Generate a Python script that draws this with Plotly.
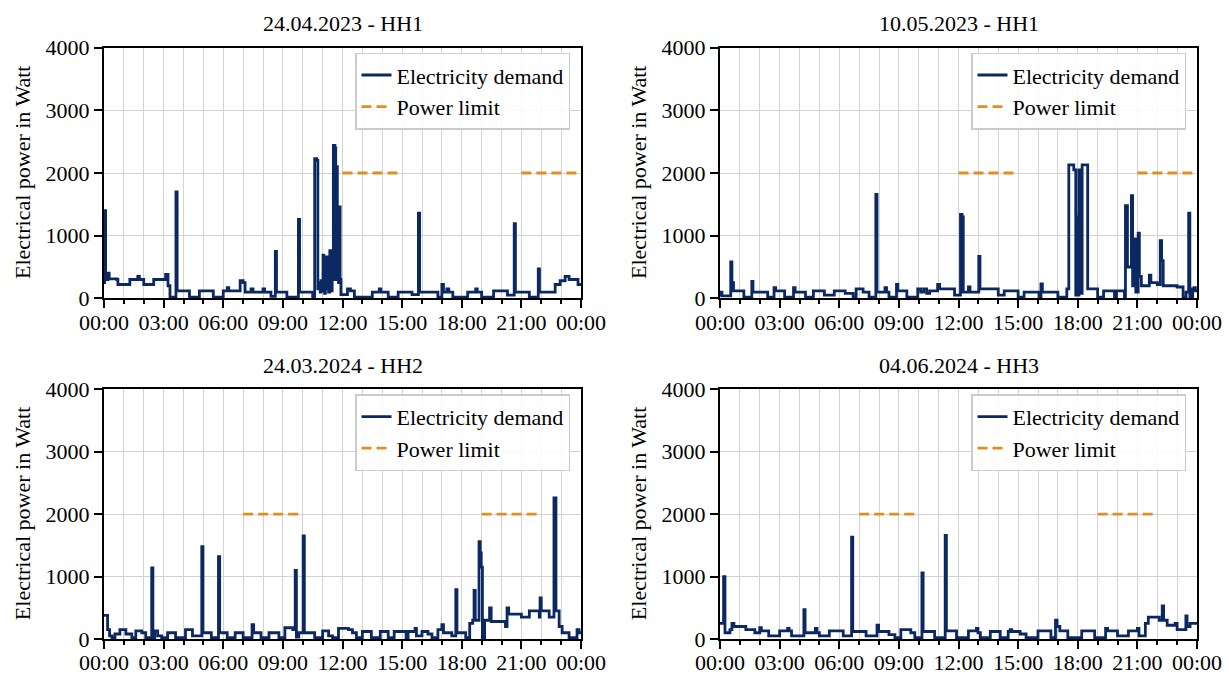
import plotly.graph_objects as go

# ---------------- data (hour of day, watt) ----------------
titles = ["24.04.2023 - HH1", "10.05.2023 - HH1", "24.03.2024 - HH2", "04.06.2024 - HH3"]

demand_a = [(0.00, 250), (0.03, 1400), (0.08, 300), (0.20, 400), (0.26, 310), (0.65, 300), (0.70, 220),
            (1.30, 300), (1.70, 350), (1.78, 300), (2.00, 220), (2.50, 300), (3.10, 380), (3.22, 200),
            (3.32, 20), (3.62, 1700), (3.68, 120), (4.30, 20), (4.80, 120), (5.50, 20), (6.00, 120),
            (6.20, 170), (6.28, 120), (6.85, 280), (7.00, 250), (7.10, 100), (7.40, 150), (7.50, 100),
            (8.00, 150), (8.08, 100), (8.40, 30), (8.62, 750), (8.68, 100), (9.20, 20), (9.78, 1260),
            (9.84, 100), (10.50, 20), (10.60, 2230), (10.70, 2200), (10.76, 150), (10.82, 250),
            (10.88, 100), (10.92, 280), (10.98, 120), (11.02, 690), (11.06, 200), (11.10, 80),
            (11.14, 250), (11.18, 660), (11.22, 150), (11.26, 280), (11.30, 100), (11.36, 760),
            (11.40, 300), (11.44, 120), (11.48, 300), (11.54, 2440), (11.62, 2400), (11.66, 300),
            (11.70, 2100), (11.74, 350), (11.80, 250), (11.84, 1460), (11.88, 300), (11.92, 60),
            (12.25, 150), (12.40, 120), (12.60, 20),
            (13.50, 100), (13.85, 150), (13.93, 100), (14.30, 20), (14.80, 100), (15.50, 60),
            (15.82, 1360), (15.88, 100), (16.80, 20), (17.00, 220), (17.08, 100), (17.25, 150),
            (17.35, 100), (17.55, 20), (18.30, 100), (18.70, 150), (18.78, 100), (19.00, 20),
            (19.60, 120), (20.30, 50), (20.64, 1190), (20.70, 100), (21.40, 20), (21.85, 470),
            (21.91, 100), (22.70, 220), (22.95, 280), (23.20, 350), (23.40, 300), (23.85, 220),
            (24.00, 220)]

demand_b = [(0.00, 50), (0.05, 100), (0.10, 40), (0.54, 580), (0.60, 250), (0.68, 120), (1.20, 20),
            (1.60, 270), (1.66, 100), (2.40, 20), (2.72, 170), (2.80, 120), (3.25, 20), (3.70, 170),
            (3.78, 100), (4.30, 20), (4.70, 120), (5.25, 50), (5.75, 120), (6.30, 80), (6.70, 20),
            (6.85, 150), (7.20, 100), (7.50, 20), (7.84, 1660), (7.90, 100), (8.30, 170), (8.38, 100),
            (8.50, 20), (8.88, 220), (8.95, 120), (9.40, 20), (9.95, 150), (10.10, 100), (10.25, 150),
            (10.40, 80), (10.55, 120), (10.95, 220), (11.05, 150), (11.80, 50), (12.10, 1340),
            (12.18, 1300), (12.24, 100), (12.50, 180), (12.58, 100), (13.02, 670), (13.08, 150),
            (14.00, 50), (14.30, 120), (15.00, 20), (15.30, 100), (16.05, 20), (16.15, 230),
            (16.22, 100), (17.00, 20), (17.45, 150), (17.55, 2130), (17.80, 2050), (17.90, 50),
            (17.96, 1300), (18.02, 50), (18.06, 2050), (18.14, 80), (18.22, 2130), (18.50, 150),
            (19.00, 20), (19.30, 120), (19.85, 20), (19.95, 120), (20.35, 20), (20.40, 1480),
            (20.50, 500), (20.70, 1640), (20.76, 200), (20.86, 950), (20.92, 100), (21.04, 1040),
            (21.10, 350), (21.20, 200), (21.60, 370), (21.68, 250), (22.00, 220), (22.15, 920),
            (22.22, 600), (22.30, 200), (23.00, 180), (23.30, 20), (23.45, 100), (23.58, 1360),
            (23.64, 20), (23.78, 150), (23.85, 170), (23.92, 120), (24.00, 120)]

demand_c = [(0.00, 380), (0.18, 150), (0.28, 50), (0.40, 20), (0.55, 80), (0.80, 150), (1.10, 80),
            (1.40, 20), (1.60, 130), (1.90, 100), (2.10, 20), (2.40, 1140), (2.46, 20), (2.55, 130),
            (2.70, 50), (2.90, 20), (3.20, 100), (3.60, 20), (4.10, 150), (4.45, 50), (4.92, 1480),
            (4.98, 100), (5.40, 20), (5.76, 1320), (5.82, 100), (6.20, 20), (6.60, 100), (7.00, 20),
            (7.45, 230), (7.53, 100), (7.90, 20), (8.30, 100), (8.80, 20), (9.10, 180), (9.50, 150),
            (9.62, 1100), (9.68, 30), (9.80, 100), (10.02, 1650), (10.08, 100), (10.60, 20),
            (11.00, 130), (11.30, 50), (11.50, 20), (11.80, 170), (12.30, 150), (12.50, 100),
            (12.70, 20), (13.00, 120), (13.45, 20), (13.90, 120), (14.30, 20), (14.60, 120),
            (15.20, 20), (15.30, 120), (15.65, 170), (15.72, 50), (16.00, 120), (16.30, 80),
            (16.50, 20), (16.80, 150), (17.00, 230), (17.08, 100), (17.50, 50), (17.70, 790),
            (17.76, 100), (18.20, 20), (18.40, 250), (18.55, 300), (18.62, 780), (18.68, 300),
            (18.87, 1560), (18.93, 1380), (18.98, 1150), (19.04, 0), (19.15, 300), (19.40, 500),
            (19.48, 280), (20.20, 200), (20.28, 500), (20.36, 400), (21.00, 350), (21.40, 450),
            (21.90, 350), (21.94, 660), (22.00, 450), (22.40, 350), (22.64, 2260), (22.74, 450),
            (22.90, 200), (23.05, 100), (23.40, 20), (23.80, 150), (23.90, 100), (24.00, 100)]

demand_d = [(0.00, 250), (0.18, 1000), (0.25, 100), (0.50, 150), (0.60, 250), (0.70, 200), (1.30, 150),
            (1.75, 100), (2.00, 180), (2.08, 130), (2.45, 50), (3.00, 130), (3.40, 170), (3.48, 130),
            (3.60, 50), (4.22, 470), (4.28, 100), (4.80, 170), (4.88, 100), (5.00, 50), (5.50, 130),
            (6.20, 50), (6.62, 1630), (6.68, 120), (7.35, 50), (7.90, 220), (7.98, 120), (8.50, 70),
            (8.80, 20), (9.10, 150), (9.60, 100), (9.80, 20), (10.16, 1060), (10.22, 120),
            (10.80, 20), (11.33, 1660), (11.39, 130), (11.90, 20), (12.50, 130), (12.90, 170),
            (12.98, 100), (13.10, 20), (13.60, 120), (14.10, 20), (14.50, 120), (14.60, 150),
            (14.68, 120), (15.10, 80), (15.40, 20), (16.00, 130), (16.65, 20), (16.88, 300),
            (16.96, 200), (17.10, 130), (17.50, 20), (18.20, 130), (18.85, 20), (19.40, 170),
            (19.50, 130), (20.00, 50), (20.55, 130), (21.00, 170), (21.08, 50), (21.40, 250),
            (21.55, 350), (22.10, 300), (22.25, 530), (22.32, 300), (22.50, 220), (22.90, 250),
            (23.00, 150), (23.44, 370), (23.50, 200), (23.65, 250), (24.00, 250)]

limit_windows_a = [(12, 15), (21, 24)]
limit_windows_b = [(12, 15), (21, 24)]
limit_windows_c = [(7, 10), (19, 22)]
limit_windows_d = [(7, 10), (19, 22)]
power_limit = 2000

tick_hours = [0, 3, 6, 9, 12, 15, 18, 21, 24]
tick_labels = ["00:00", "03:00", "06:00", "09:00", "12:00", "15:00", "18:00", "21:00", "00:00"]
y_ticks = [0, 1000, 2000, 3000, 4000]

# ---------------- styling ----------------
W, H = 1229, 674
FONT = "Liberation Serif"
FS = 22
NAVY = "#0B2862"
ORANGE = "#E08E22"
GRID = "#d3d3d3"

# pixel boxes of plot areas: (left, right, top, bottom)
boxes = [(104, 581, 47.7, 298.3), (720, 1197, 47.7, 298.3),
         (104, 581, 389.3, 639), (720, 1197, 389.3, 639)]

demands = [demand_a, demand_b, demand_c, demand_d]
windows = [limit_windows_a, limit_windows_b, limit_windows_c, limit_windows_d]

fig = go.Figure()
annotations = []
layout = {}

for i in range(4):
    n = "" if i == 0 else str(i + 1)
    xa, ya = "x" + n, "y" + n
    leg = "legend" + n
    l, r, t, b = boxes[i]
    xdom = [l / W, r / W]
    ydom = [1 - b / H, 1 - t / H]

    fig.add_trace(go.Scatter(
        x=[p[0] for p in demands[i]], y=[p[1] for p in demands[i]],
        mode="lines", line=dict(color=NAVY, width=2.8, shape="hv"),
        name="Electricity demand", xaxis=xa, yaxis=ya, legend=leg))
    lx, ly = [], []
    for (s, e) in windows[i]:
        lx += [s, e, None]
        ly += [power_limit, power_limit, None]
    fig.add_trace(go.Scatter(
        x=lx, y=ly, mode="lines", line=dict(color=ORANGE, width=2.8, dash="10px,5px"),
        name="Power limit", xaxis=xa, yaxis=ya, legend=leg))

    layout["xaxis" + n] = dict(
        domain=xdom, anchor=ya, range=[0, 24], tickvals=tick_hours, ticktext=tick_labels,
        ticks="outside", ticklen=8, tickwidth=2, tickcolor="black", automargin=False,
        ticklabelstandoff=-5,
        showline=True, linecolor="black", linewidth=2, mirror=True,
        showgrid=True, gridcolor=GRID, gridwidth=1, zeroline=False,
        minor=dict(dtick=1, tick0=0, ticks="outside", ticklen=4, tickwidth=1.5,
                   tickcolor="black", showgrid=True, gridcolor=GRID, gridwidth=1),
        tickfont=dict(family=FONT, size=FS, color="black"), fixedrange=True)
    layout["yaxis" + n] = dict(
        domain=ydom, anchor=xa, range=[0, 4000], tickvals=y_ticks,
        ticks="outside", ticklen=8, tickwidth=2, tickcolor="black", automargin=False,
        showline=True, linecolor="black", linewidth=2, mirror=True,
        showgrid=True, gridcolor=GRID, gridwidth=1, zeroline=False,
        tickfont=dict(family=FONT, size=FS, color="black"), fixedrange=True)
    layout[leg] = dict(
        x=(r - 11) / W, y=1 - (t + 5) / H, xanchor="right", yanchor="top",
        bgcolor="rgba(255,255,255,0.85)", bordercolor="#cccccc", borderwidth=1.5,
        font=dict(family=FONT, size=FS, color="black"), itemwidth=30, tracegroupgap=0)

    annotations.append(dict(
        text=titles[i], x=(l + r) / 2 / W, y=1 - (t - 24) / H, xref="paper", yref="paper",
        xanchor="center", yanchor="middle", showarrow=False,
        font=dict(family=FONT, size=FS, color="black")))
    annotations.append(dict(
        text="Electrical power in Watt", x=(l - 82) / W, y=1 - (t + b) / 2 / H,
        xref="paper", yref="paper", xanchor="center", yanchor="middle", textangle=-90,
        showarrow=False, font=dict(family=FONT, size=FS, color="black")))

fig.update_layout(
    template="none",
    width=W, height=H, margin=dict(l=0, r=0, t=0, b=0, pad=0, autoexpand=False),
    paper_bgcolor="white", plot_bgcolor="white",
    font=dict(family=FONT, size=FS, color="black"),
    annotations=annotations, showlegend=True, **layout)

fig.write_html(
    "out.html",
    config={"displayModeBar": False},
    post_script="document.body.style.margin='0';document.body.style.overflow='hidden';")
